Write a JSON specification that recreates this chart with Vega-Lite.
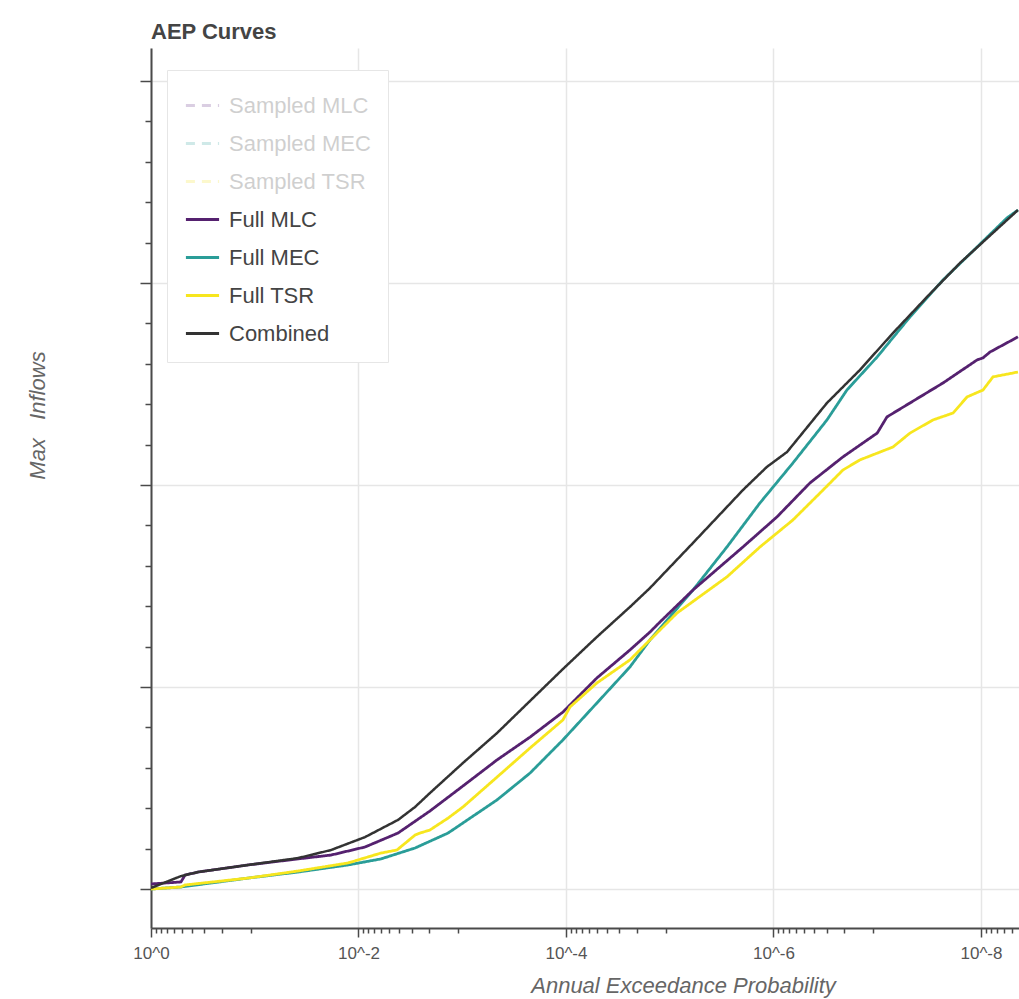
{
  "$schema": "https://vega.github.io/schema/vega-lite/v6.json",
  "width": 868,
  "height": 880,
  "autosize": {"type": "none"},
  "padding": {"left": 151, "top": 48, "right": 0, "bottom": 71},
  "background": "white",
  "title": {"text": "AEP Curves", "anchor": "start", "frame": "group", "font": "Liberation Sans", "fontSize": 22, "fontWeight": "bold", "color": "#444444", "offset": 4},
  "config": {
    "view": {"stroke": null},
    "font": "Liberation Sans",
    "legend": {
      "symbolType": "stroke",
      "symbolSize": 1100,
      "symbolStrokeWidth": 3,
      "labelFontSize": 22,
      "labelColor": "#444444",
      "labelFont": "Liberation Sans",
      "rowPadding": 8,
      "labelOffset": 8,
      "padding": 17,
      "fillColor": "white",
      "strokeColor": "#e6e6e6",
      "cornerRadius": 0,
      "labelLimit": 400
    }
  },
  "data": {
    "values": [
      {"s": "Combined", "p": 1, "v": 0.005},
      {"s": "Combined", "p": 0.514, "v": 0.064},
      {"s": "Combined", "p": 0.352, "v": 0.084},
      {"s": "Combined", "p": 0.116, "v": 0.119},
      {"s": "Combined", "p": 0.0383, "v": 0.153},
      {"s": "Combined", "p": 0.0184, "v": 0.193},
      {"s": "Combined", "p": 0.00865, "v": 0.257},
      {"s": "Combined", "p": 0.00416, "v": 0.342},
      {"s": "Combined", "p": 0.00285, "v": 0.406},
      {"s": "Combined", "p": 0.00205, "v": 0.475},
      {"s": "Combined", "p": 0.000984, "v": 0.624},
      {"s": "Combined", "p": 0.000462, "v": 0.772},
      {"s": "Combined", "p": 0.000222, "v": 0.931},
      {"s": "Combined", "p": 0.000107, "v": 1.089},
      {"s": "Combined", "p": 5.03e-5, "v": 1.248},
      {"s": "Combined", "p": 2.42e-5, "v": 1.396},
      {"s": "Combined", "p": 1.55e-5, "v": 1.490},
      {"s": "Combined", "p": 5.97e-6, "v": 1.713},
      {"s": "Combined", "p": 1.97e-6, "v": 1.975},
      {"s": "Combined", "p": 1.16e-6, "v": 2.089},
      {"s": "Combined", "p": 7.41e-7, "v": 2.163},
      {"s": "Combined", "p": 3.05e-7, "v": 2.406},
      {"s": "Combined", "p": 1.47e-7, "v": 2.569},
      {"s": "Combined", "p": 7.05e-8, "v": 2.752},
      {"s": "Combined", "p": 3.31e-8, "v": 2.931},
      {"s": "Combined", "p": 1.59e-8, "v": 3.099},
      {"s": "Combined", "p": 7.66e-9, "v": 3.248},
      {"s": "Combined", "p": 4.4e-9, "v": 3.361},

      {"s": "Full MEC", "p": 1, "v": 0.0},
      {"s": "Full MEC", "p": 0.514, "v": 0.010},
      {"s": "Full MEC", "p": 0.116, "v": 0.054},
      {"s": "Full MEC", "p": 0.0383, "v": 0.084},
      {"s": "Full MEC", "p": 0.0126, "v": 0.119},
      {"s": "Full MEC", "p": 0.00607, "v": 0.149},
      {"s": "Full MEC", "p": 0.00285, "v": 0.203},
      {"s": "Full MEC", "p": 0.00137, "v": 0.277},
      {"s": "Full MEC", "p": 0.000462, "v": 0.441},
      {"s": "Full MEC", "p": 0.000222, "v": 0.574},
      {"s": "Full MEC", "p": 0.000107, "v": 0.738},
      {"s": "Full MEC", "p": 5.03e-5, "v": 0.921},
      {"s": "Full MEC", "p": 2.42e-5, "v": 1.099},
      {"s": "Full MEC", "p": 1.55e-5, "v": 1.233},
      {"s": "Full MEC", "p": 5.97e-6, "v": 1.480},
      {"s": "Full MEC", "p": 2.81e-6, "v": 1.693},
      {"s": "Full MEC", "p": 1.35e-6, "v": 1.911},
      {"s": "Full MEC", "p": 6.49e-7, "v": 2.109},
      {"s": "Full MEC", "p": 3.05e-7, "v": 2.322},
      {"s": "Full MEC", "p": 1.96e-7, "v": 2.470},
      {"s": "Full MEC", "p": 1.0e-7, "v": 2.634},
      {"s": "Full MEC", "p": 4.83e-8, "v": 2.832},
      {"s": "Full MEC", "p": 2.32e-8, "v": 3.015},
      {"s": "Full MEC", "p": 1.09e-8, "v": 3.178},
      {"s": "Full MEC", "p": 5.61e-9, "v": 3.322},
      {"s": "Full MEC", "p": 4.4e-9, "v": 3.361},

      {"s": "Full MLC", "p": 1, "v": 0.025},
      {"s": "Full MLC", "p": 0.514, "v": 0.035},
      {"s": "Full MLC", "p": 0.47, "v": 0.069},
      {"s": "Full MLC", "p": 0.352, "v": 0.084},
      {"s": "Full MLC", "p": 0.116, "v": 0.119},
      {"s": "Full MLC", "p": 0.0383, "v": 0.149},
      {"s": "Full MLC", "p": 0.0184, "v": 0.168},
      {"s": "Full MLC", "p": 0.00865, "v": 0.208},
      {"s": "Full MLC", "p": 0.00416, "v": 0.277},
      {"s": "Full MLC", "p": 0.00205, "v": 0.386},
      {"s": "Full MLC", "p": 0.000984, "v": 0.510},
      {"s": "Full MLC", "p": 0.000462, "v": 0.639},
      {"s": "Full MLC", "p": 0.000222, "v": 0.752},
      {"s": "Full MLC", "p": 0.000107, "v": 0.876},
      {"s": "Full MLC", "p": 5.03e-5, "v": 1.045},
      {"s": "Full MLC", "p": 2.42e-5, "v": 1.183},
      {"s": "Full MLC", "p": 1.55e-5, "v": 1.272},
      {"s": "Full MLC", "p": 1.24e-5, "v": 1.322},
      {"s": "Full MLC", "p": 5.97e-6, "v": 1.480},
      {"s": "Full MLC", "p": 1.97e-6, "v": 1.693},
      {"s": "Full MLC", "p": 9.25e-7, "v": 1.842},
      {"s": "Full MLC", "p": 4.45e-7, "v": 2.010},
      {"s": "Full MLC", "p": 2.14e-7, "v": 2.139},
      {"s": "Full MLC", "p": 1.0e-7, "v": 2.257},
      {"s": "Full MLC", "p": 8.05e-8, "v": 2.337},
      {"s": "Full MLC", "p": 4.83e-8, "v": 2.406},
      {"s": "Full MLC", "p": 2.32e-8, "v": 2.505},
      {"s": "Full MLC", "p": 1.09e-8, "v": 2.619},
      {"s": "Full MLC", "p": 9.57e-9, "v": 2.629},
      {"s": "Full MLC", "p": 8.19e-9, "v": 2.658},
      {"s": "Full MLC", "p": 4.4e-9, "v": 2.733},

      {"s": "Full TSR", "p": 1, "v": 0.0},
      {"s": "Full TSR", "p": 0.514, "v": 0.010},
      {"s": "Full TSR", "p": 0.47, "v": 0.020},
      {"s": "Full TSR", "p": 0.116, "v": 0.054},
      {"s": "Full TSR", "p": 0.0383, "v": 0.089},
      {"s": "Full TSR", "p": 0.0126, "v": 0.129},
      {"s": "Full TSR", "p": 0.00607, "v": 0.178},
      {"s": "Full TSR", "p": 0.00426, "v": 0.193},
      {"s": "Full TSR", "p": 0.00285, "v": 0.267},
      {"s": "Full TSR", "p": 0.00255, "v": 0.277},
      {"s": "Full TSR", "p": 0.00205, "v": 0.292},
      {"s": "Full TSR", "p": 0.00137, "v": 0.351},
      {"s": "Full TSR", "p": 0.000984, "v": 0.406},
      {"s": "Full TSR", "p": 0.000462, "v": 0.554},
      {"s": "Full TSR", "p": 0.000222, "v": 0.698},
      {"s": "Full TSR", "p": 0.000107, "v": 0.837},
      {"s": "Full TSR", "p": 9.15e-5, "v": 0.901},
      {"s": "Full TSR", "p": 5.03e-5, "v": 1.020},
      {"s": "Full TSR", "p": 2.42e-5, "v": 1.134},
      {"s": "Full TSR", "p": 1.55e-5, "v": 1.233},
      {"s": "Full TSR", "p": 8.51e-6, "v": 1.366},
      {"s": "Full TSR", "p": 2.81e-6, "v": 1.545},
      {"s": "Full TSR", "p": 1.35e-6, "v": 1.693},
      {"s": "Full TSR", "p": 6.49e-7, "v": 1.827},
      {"s": "Full TSR", "p": 3.56e-7, "v": 1.960},
      {"s": "Full TSR", "p": 2.14e-7, "v": 2.074},
      {"s": "Full TSR", "p": 1.47e-7, "v": 2.124},
      {"s": "Full TSR", "p": 7.05e-8, "v": 2.188},
      {"s": "Full TSR", "p": 4.83e-8, "v": 2.257},
      {"s": "Full TSR", "p": 2.9e-8, "v": 2.322},
      {"s": "Full TSR", "p": 1.86e-8, "v": 2.356},
      {"s": "Full TSR", "p": 1.36e-8, "v": 2.436},
      {"s": "Full TSR", "p": 9.57e-9, "v": 2.470},
      {"s": "Full TSR", "p": 7.66e-9, "v": 2.535},
      {"s": "Full TSR", "p": 4.4e-9, "v": 2.559}
    ]
  },
  "encoding": {
    "x": {
      "field": "p",
      "type": "quantitative",
      "scale": {"type": "log", "domain": [4.3e-9, 1], "reverse": true, "nice": false},
      "axis": {
        "title": "Annual Exceedance Probability",
        "titleFont": "Liberation Sans",
        "titleFontSize": 22,
        "titleFontStyle": "italic",
        "titleFontWeight": "normal",
        "titleColor": "#666666",
        "titleX": 532,
        "titleY": 64,
        "titleAlign": "center",
        "titleBaseline": "alphabetic",
        "values": [1, 0.901, 0.802, 0.703, 0.604, 0.505, 0.406, 0.307, 0.208, 0.109,
                   0.01, 0.00901, 0.00802, 0.00703, 0.00604, 0.00505, 0.00406, 0.00307, 0.00208, 0.00109,
                   0.0001, 9.01e-5, 8.02e-5, 7.03e-5, 6.04e-5, 5.05e-5, 4.06e-5, 3.07e-5, 2.08e-5, 1.09e-5,
                   1e-6, 9.01e-7, 8.02e-7, 7.03e-7, 6.04e-7, 5.05e-7, 4.06e-7, 3.07e-7, 2.08e-7, 1.09e-7,
                   1e-8, 9.01e-9, 8.02e-9, 7.03e-9, 6.04e-9, 5.05e-9],
        "labelExpr": "abs(log(datum.value)/LN10 - round(log(datum.value)/LN10)) < 0.001 ? '10^' + round(log(datum.value)/LN10) : ''",
        "labelOverlap": false,
        "labelFlush": false,
        "labelFont": "Liberation Sans",
        "labelFontSize": 17,
        "labelColor": "#555555",
        "labelPadding": 8,
        "domainColor": "#4a4a4a",
        "domainWidth": 2,
        "tickColor": "#4a4a4a",
        "tickWidth": 1.5,
        "tickSize": {"condition": {"test": "abs(log(datum.value)/LN10 - round(log(datum.value)/LN10)) < 0.001", "value": 9}, "value": 5},
        "grid": true,
        "gridColor": "#e6e6e6",
        "gridWidth": 1.5,
        "gridOpacity": {"condition": {"test": "abs(log(datum.value)/LN10 - round(log(datum.value)/LN10)) < 0.001", "value": 1}, "value": 0}
      }
    },
    "y": {
      "field": "v",
      "type": "quantitative",
      "scale": {"domain": [-0.193, 4.163], "nice": false, "zero": false},
      "axis": {
        "title": "Max\u00a0\u00a0\u00a0Inflows",
        "titleFont": "Liberation Sans",
        "titleFontSize": 22,
        "titleFontStyle": "italic",
        "titleFontWeight": "normal",
        "titleColor": "#666666",
        "titleAngle": 270,
        "titleX": -114,
        "titleY": 367,
        "titleAlign": "center",
        "titleBaseline": "middle",
        "labels": false,
        "values": [0, 0.2, 0.4, 0.6, 0.8, 1, 1.2, 1.4, 1.6, 1.8, 2, 2.2, 2.4, 2.6, 2.8, 3, 3.2, 3.4, 3.6, 3.8, 4],
        "domainColor": "#4a4a4a",
        "domainWidth": 2,
        "tickColor": "#4a4a4a",
        "tickWidth": 1.5,
        "tickSize": {"condition": {"test": "abs(datum.value - round(datum.value)) < 0.01", "value": 11}, "value": 6},
        "grid": true,
        "gridColor": "#e6e6e6",
        "gridWidth": 1.5,
        "gridOpacity": {"condition": {"test": "abs(datum.value - round(datum.value)) < 0.01", "value": 1}, "value": 0}
      }
    },
    "color": {
      "field": "s",
      "type": "nominal",
      "scale": {
        "domain": ["Sampled MLC", "Sampled MEC", "Sampled TSR", "Full MLC", "Full MEC", "Full TSR", "Combined"],
        "range": ["#5a2480", "#2a9d98", "#f2e21e", "#55216f", "#2a9d98", "#f7e61e", "#333333"]
      },
      "legend": {
        "orient": "none",
        "legendX": 16,
        "legendY": 22,
        "title": null,
        "encode": {
          "symbols": {"update": {"opacity": {"signal": "indexof(datum.value, 'Sampled') == 0 ? 0.22 : 1"}}},
          "labels": {"update": {"opacity": {"signal": "indexof(datum.value, 'Sampled') == 0 ? 0.25 : 1"}}}
        }
      }
    },
    "strokeDash": {
      "field": "s",
      "type": "nominal",
      "scale": {
        "domain": ["Sampled MLC", "Sampled MEC", "Sampled TSR", "Full MLC", "Full MEC", "Full TSR", "Combined"],
        "range": [[9, 7], [9, 7], [9, 7], [1, 0], [1, 0], [1, 0], [1, 0]]
      },
      "legend": {
        "orient": "none",
        "legendX": 16,
        "legendY": 22,
        "title": null
      }
    }
  },
  "layer": [
    {
      "transform": [{"filter": "datum.s != 'Combined'"}],
      "mark": {"type": "line", "strokeWidth": 2.8, "clip": true}
    },
    {
      "transform": [{"filter": "datum.s == 'Combined'"}],
      "mark": {"type": "line", "strokeWidth": 2.5, "clip": true}
    }
  ]
}
